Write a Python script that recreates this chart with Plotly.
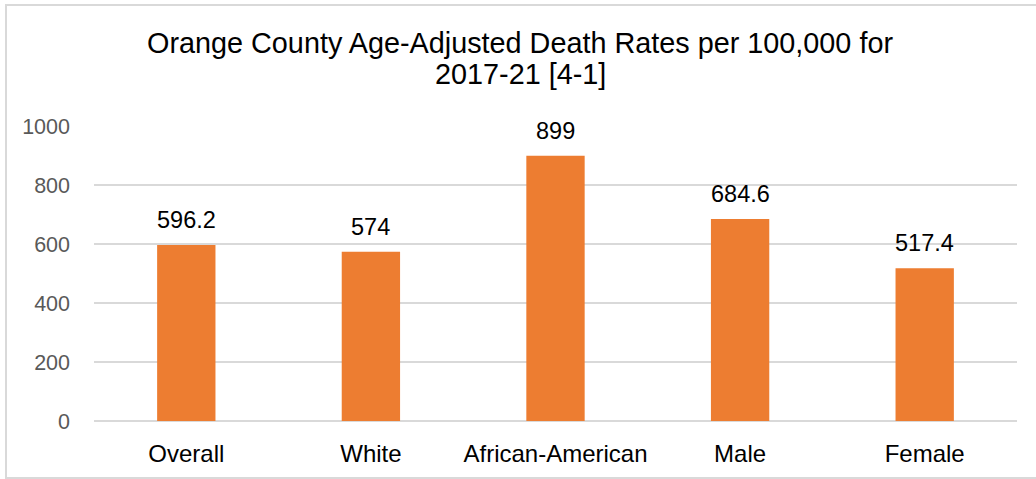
import plotly.graph_objects as go

categories = ["Overall", "White", "African-American", "Male", "Female"]
rates = [596.2, 574, 899, 684.6, 517.4]
rate_labels = ["596.2", "574", "899", "684.6", "517.4"]
y_ticks = [0, 200, 400, 600, 800, 1000]
title_lines = ["Orange County Age-Adjusted Death Rates per 100,000 for", "2017-21 [4-1]"]

FONT = "Liberation Sans, Arial, sans-serif"
ORANGE = "#ED7D31"
GRID = "#D9D9D9"

# plot area geometry in pixels
W, H = 1036, 479
L, R, T, B = 94, 19, 126, 58
PW, PH = W - L - R, H - T - B


def py(pixel_y):
    """pixel row from top -> paper y"""
    return (H - B - pixel_y) / PH


def px(pixel_x):
    """pixel column from left -> paper x"""
    return (pixel_x - L) / PW


fig = go.Figure()
fig.add_trace(go.Bar(
    x=categories,
    y=rates,
    marker=dict(color=ORANGE, line=dict(width=0)),
    hoverinfo="x+y",
))

# value labels above each bar
for cat, val, lab in zip(categories, rates, rate_labels):
    fig.add_annotation(
        x=cat, y=val, text=lab, showarrow=False,
        xref="x", yref="y", yanchor="bottom", yshift=10,
        font=dict(family=FONT, size=23.5, color="#000000"),
    )

# two-line chart title
for line, row in zip(title_lines, [43, 74]):
    fig.add_annotation(
        x=px(W / 2 + 2), y=py(row), xref="paper", yref="paper",
        text=line, showarrow=False, xanchor="center", yanchor="middle",
        font=dict(family=FONT, size=28.8, color="#000000"),
    )

fig.update_layout(
    width=W, height=H,
    margin=dict(l=L, r=R, t=T, b=B),
    paper_bgcolor="white", plot_bgcolor="white",
    bargap=0.684,
    showlegend=False,
    xaxis=dict(
        showgrid=False, showline=False, zeroline=False, ticks="",
        ticklabelstandoff=16,
        tickfont=dict(family=FONT, size=24, color="#000000"),
    ),
    yaxis=dict(
        range=[0, 1000], tickvals=y_ticks, ticktext=[str(t) for t in y_ticks],
        showgrid=True, gridcolor=GRID, gridwidth=1.5,
        zeroline=True, zerolinecolor=GRID, zerolinewidth=1.5,
        showline=False, ticks="", ticklabelstandoff=23,
        tickfont=dict(family=FONT, size=21.5, color="#595959"),
    ),
    shapes=[dict(
        type="rect", xref="paper", yref="paper",
        x0=px(6), x1=px(W + 10), y0=py(H - 1), y1=py(5),
        line=dict(color=GRID, width=2), fillcolor="rgba(0,0,0,0)", layer="below",
    )],
)

fig.write_html("out.html")
